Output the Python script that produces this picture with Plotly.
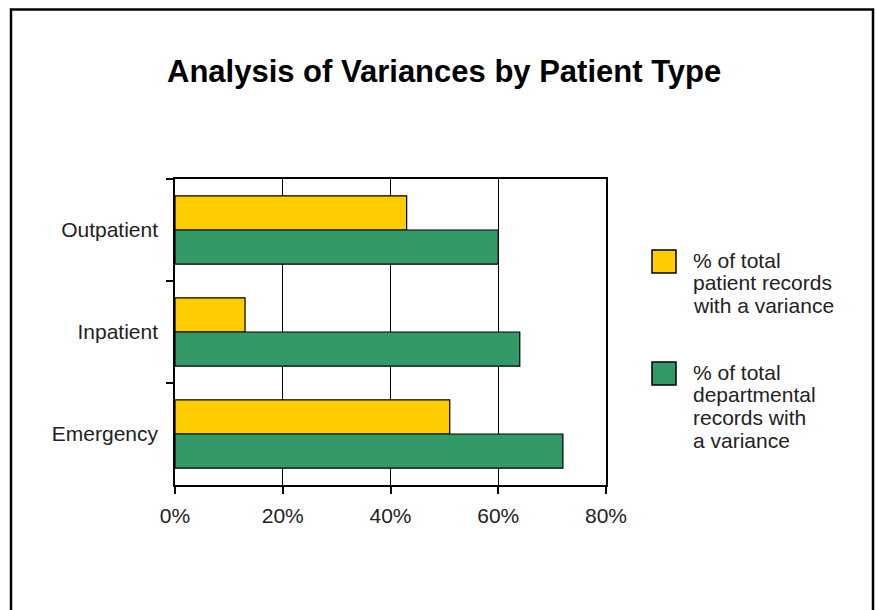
import plotly.graph_objects as go

# ---- data ----
categories = ["Outpatient", "Inpatient", "Emergency"]
patient_pct = [43, 13, 51]        # % of total patient records with a variance
departmental_pct = [60, 64, 72]   # % of total departmental records with a variance
series_names = ["% of total patient records with a variance",
                "% of total departmental records with a variance"]
legend_lines = [["% of total", "patient records", "with a variance"],
                ["% of total", "departmental", "records with", "a variance"]]
x_ticks = [0, 20, 40, 60, 80]
x_tick_labels = ["0%", "20%", "40%", "60%", "80%"]
title_text = "Analysis of Variances by Patient Type"

colors = ["#FFCC00", "#339966"]

W, H = 877, 610
L, R, T, B = 175, 606, 179, 485  # plot area in pixels


def px_x(p):
    return (p - L) / (R - L)


def px_y(p):
    return (B - p) / (B - T)


fig = go.Figure()
for name, vals, col in zip(series_names, [patient_pct, departmental_pct], colors):
    fig.add_trace(go.Bar(
        y=categories, x=vals, name=name, orientation="h",
        marker=dict(color=col, line=dict(color="black", width=1.2)),
        showlegend=False,
    ))

font_main = "Arial, Liberation Sans, sans-serif"

fig.update_layout(
    width=W, height=H,
    margin=dict(l=L, r=W - R, t=T, b=H - B, pad=0),
    paper_bgcolor="white", plot_bgcolor="white",
    barmode="group", bargap=0.33, bargroupgap=0,
    font=dict(family=font_main, size=21, color="#222222"),
    xaxis=dict(
        range=[0, 80], tickvals=x_ticks, ticktext=x_tick_labels,
        showgrid=True, gridcolor="black", gridwidth=1,
        showline=True, linecolor="black", linewidth=1.5, mirror=True,
        ticks="outside", ticklen=7, tickcolor="black", tickwidth=1.5,
        ticklabelstandoff=4, zeroline=False, fixedrange=True,
    ),
    yaxis=dict(
        autorange="reversed", type="category",
        showgrid=False,
        showline=True, linecolor="black", linewidth=1.5, mirror=True,
        ticks="outside", ticklen=7, tickcolor="black", tickwidth=1.5,
        tickson="boundaries", ticklabelstandoff=11, fixedrange=True,
    ),
)

# title
fig.add_annotation(
    text="<b>" + title_text + "</b>", xref="paper", yref="paper",
    x=px_x(444), y=px_y(72), xanchor="center", yanchor="middle",
    showarrow=False, font=dict(family=font_main, size=31, color="black"),
)

# outer frame (bottom edge extends past the page)
fig.add_shape(type="rect", xref="paper", yref="paper",
              x0=px_x(11), x1=px_x(873), y0=px_y(9.5), y1=px_y(640),
              line=dict(color="black", width=2.5), fillcolor="rgba(0,0,0,0)")

# legend (manual)
swatch_tops = [250, 362]
line_gap = 22.7
for i, (col, lines) in enumerate(zip(colors, legend_lines)):
    top = swatch_tops[i]
    fig.add_shape(type="rect", xref="paper", yref="paper",
                  x0=px_x(652), x1=px_x(676), y0=px_y(top), y1=px_y(top + 23),
                  line=dict(color="black", width=1.5), fillcolor=col)
    for j, ln in enumerate(lines):
        fig.add_annotation(
            text=ln, xref="paper", yref="paper",
            x=px_x(691), y=px_y(top + 10 + j * line_gap),
            xanchor="left", yanchor="middle", showarrow=False,
            font=dict(family=font_main, size=21, color="#222222"),
        )

fig.write_html("out.html", config={"displayModeBar": False},
               post_script="document.body.style.margin='0px';")
